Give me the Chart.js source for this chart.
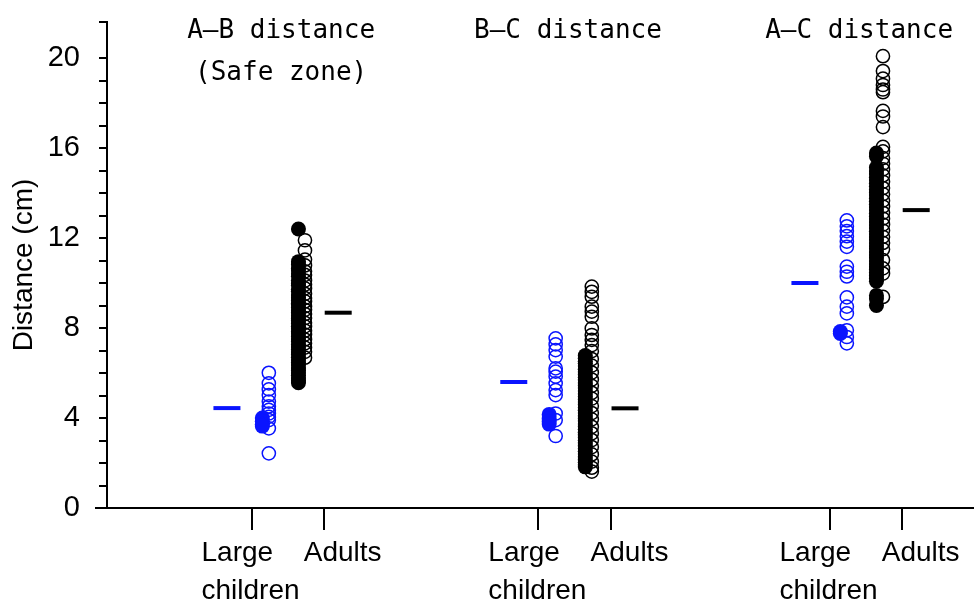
<!DOCTYPE html>
<html>
<head>
<meta charset="utf-8">
<script src="https://cdn.jsdelivr.net/npm/chart.js@4.4.0/dist/chart.umd.min.js"></script>
<style>
  html, body { margin: 0; padding: 0; background: #fff; }
  #wrap { width: 974px; height: 605px; }
</style>
</head>
<body>
<div id="wrap"><canvas id="chart" width="974" height="605"></canvas></div>
<script>
// group headings and axis texts
const groupNames = ['A–B distance', 'B–C distance', 'A–C distance'];
const groupSubtitles = ['(Safe zone)', '', ''];
const yTickLabels = [0, 4, 8, 12, 16, 20];

// means (short dashes)
const childMeans = [4.44, 5.6, 10.0];
const adultMeans = [8.68, 4.43, 13.24];

// A-B distance
const abChildFilled = [4.0, 3.86, 3.72, 3.64];
const abChildOpen = [6.01, 5.54, 5.27, 5.02, 4.73, 4.52, 4.36, 4.2, 4.05, 3.91, 3.54, 2.43];
const abAdultFilled = [12.4, 10.95, 10.82, 10.66, 10.58, 10.41, 10.3, 10.12, 9.98, 9.9, 9.72, 9.63, 9.47, 9.35, 9.22,
  9.1, 9.04, 8.91, 8.77, 8.69, 8.55, 8.42, 8.33, 8.2, 8.08, 7.97, 7.85, 7.78, 7.62, 7.51, 7.4, 7.27, 7.16, 7.05,
  6.93, 6.82, 6.7, 6.58, 6.47, 6.36, 6.22, 6.11, 6.0, 5.9, 5.78, 5.66, 5.57];
const abAdultOpen = [11.9, 11.45, 11.04, 10.78, 10.52, 10.36, 10.11, 9.93, 9.76, 9.52, 9.33, 9.18, 8.96, 8.81, 8.62,
  8.44, 8.23, 8.07, 7.88, 7.71, 7.49, 7.32, 7.13, 6.94, 6.68];

// B-C distance
const bcChildFilled = [4.16, 3.98, 3.84, 3.73];
const bcChildOpen = [7.54, 7.27, 7.02, 6.73, 6.21, 6.06, 5.84, 5.54, 5.24, 5.02, 4.2, 3.91, 3.2];
const bcAdultFilled = [6.78, 6.66, 6.52, 6.43, 6.31, 6.17, 6.05, 5.93, 5.81, 5.7, 5.56, 5.44, 5.33, 5.2, 5.07, 4.96,
  4.82, 4.71, 4.6, 4.47, 4.35, 4.22, 4.1, 3.98, 3.87, 3.73, 3.62, 3.5, 3.37, 3.26, 3.13, 3.01, 2.9, 2.77, 2.65,
  2.52, 2.4, 2.28, 2.15, 2.03, 1.92, 1.83];
const bcAdultOpen = [9.84, 9.61, 9.39, 8.95, 8.73, 8.5, 7.98, 7.69, 7.47, 7.24, 6.97, 6.62, 6.33, 6.02, 5.71, 5.43,
  5.12, 4.86, 4.53, 4.22, 3.94, 3.61, 3.32, 3.02, 2.71, 2.38, 2.06, 1.79, 1.62];

// A-C distance
const acChildFilled = [7.84, 7.76];
const acChildOpen = [12.78, 12.52, 12.31, 12.08, 11.84, 11.61, 10.73, 10.5, 10.29, 9.36, 8.95, 8.65, 7.9, 7.6, 7.32];
const acAdultFilled = [15.78, 15.62, 15.13, 14.98, 14.85, 14.7, 14.58, 14.43, 14.3, 14.16, 14.02, 13.91, 13.77,
  13.63, 13.5, 13.38, 13.24, 13.1, 12.97, 12.85, 12.71, 12.58, 12.44, 12.3, 12.18, 12.05, 11.92, 11.78, 11.64,
  11.52, 11.38, 11.25, 11.12, 10.98, 10.85, 10.72, 10.6, 10.47, 10.33, 10.2, 10.08, 9.45, 9.3, 9.0];
const acAdultOpen = [20.08, 19.42, 19.08, 18.8, 18.6, 18.48, 17.65, 17.4, 16.93, 16.05, 15.85, 15.55, 15.3, 15.05,
  14.78, 14.5, 14.22, 13.95, 13.66, 13.4, 13.12, 12.86, 12.6, 12.33, 12.05, 11.78, 11.5, 11.02, 10.65, 10.42, 9.38];

// where each group sits on the x axis (child tick; adult tick is +1)
const groupX = [2, 5.97, 10];
const OFF = { childMean: -0.34, childFilled: 0.15, childOpen: 0.24, adultFilled: 0.65, adultOpen: 0.74, adultMean: 1.2 };

const BLUE = 'rgb(10,20,255)';

function column(groups, offset) {
  var out = [];
  groups.forEach(function(vals, i) {
    vals.forEach(function(v) { out.push({x: groupX[i] + offset, y: v}); });
  });
  return out;
}
function means(vals, offset) {
  return vals.map(function(v, i) { return {x: groupX[i] + offset, y: v}; });
}

const groupText = {
  id: 'groupText',
  afterDraw(chart) {
    const ctx = chart.ctx, xs = chart.scales.x, ys = chart.scales.y;
    ctx.save();
    ctx.fillStyle = '#000';
    ctx.textBaseline = 'middle';
    ctx.textAlign = 'center';
    ctx.font = '26px "DejaVu Sans Mono"';
    groupNames.forEach(function(name, i) {
      const cx = xs.getPixelForValue(groupX[i] + 0.41);
      ctx.fillText(name, cx, 31);
      if (groupSubtitles[i]) ctx.fillText(groupSubtitles[i], cx, 73);
    });
    ctx.font = '28px "Liberation Sans"';
    ctx.textAlign = 'left';
    groupX.forEach(function(g) {
      const c = xs.getPixelForValue(g), a = xs.getPixelForValue(g + 1);
      ctx.fillText('Large', c - 50, ys.bottom + 45);
      ctx.fillText('children', c - 50, ys.bottom + 83);
      ctx.fillText('Adults', a - 20, ys.bottom + 45);
    });
    // x axis line runs a little past the y axis on the left
    ctx.strokeStyle = '#000';
    ctx.lineWidth = 2;
    ctx.beginPath();
    ctx.moveTo(xs.left - 12, ys.bottom);
    ctx.lineTo(xs.left, ys.bottom);
    ctx.stroke();
    ctx.restore();
  }
};

new Chart(document.getElementById('chart'), {
  type: 'scatter',
  data: {
    datasets: [
      { data: column([abChildFilled, bcChildFilled, acChildFilled], OFF.childFilled),
        pointRadius: 7.5, backgroundColor: BLUE, borderColor: BLUE, borderWidth: 0 },
      { data: column([abAdultFilled, bcAdultFilled, acAdultFilled], OFF.adultFilled),
        pointRadius: 7.5, backgroundColor: '#000', borderColor: '#000', borderWidth: 0 },
      { data: column([abChildOpen, bcChildOpen, acChildOpen], OFF.childOpen),
        pointRadius: 6.6, backgroundColor: 'rgba(0,0,0,0)', borderColor: BLUE, borderWidth: 1.5 },
      { data: column([abAdultOpen, bcAdultOpen, acAdultOpen], OFF.adultOpen),
        pointRadius: 6.6, backgroundColor: 'rgba(0,0,0,0)', borderColor: '#000', borderWidth: 1.5 },
      { data: means(childMeans, OFF.childMean),
        pointStyle: 'line', pointRadius: 13.5, borderColor: BLUE, borderWidth: 4 },
      { data: means(adultMeans, OFF.adultMean),
        pointStyle: 'line', pointRadius: 13.5, borderColor: '#000', borderWidth: 4 }
    ]
  },
  options: {
    responsive: false,
    animation: false,
    events: [],
    layout: { autoPadding: false, padding: { top: 22, right: 0, bottom: 0, left: 0 } },
    plugins: { legend: { display: false }, tooltip: { enabled: false } },
    scales: {
      x: {
        type: 'linear', min: 0, max: 12,
        afterBuildTicks: function(s) {
          s.ticks = [];
          groupX.forEach(function(g) { s.ticks.push({value: g}, {value: g + 1}); });
        },
        ticks: { display: false },
        grid: { drawOnChartArea: false, drawTicks: true, tickLength: 22, color: '#000', lineWidth: 2 },
        border: { color: '#000', width: 2 },
        afterFit: function(s) { s.height = 97; s.paddingLeft = 0; s.paddingRight = 0; }
      },
      y: {
        min: 0, max: 21.6,
        ticks: {
          stepSize: 1, autoSkip: false, padding: 19, color: '#000',
          font: { family: '"Liberation Sans"', size: 29 },
          callback: function(v) { return yTickLabels.includes(v) ? String(v) : ''; }
        },
        grid: { drawOnChartArea: false, drawTicks: true, tickLength: 8, color: '#000', lineWidth: 2 },
        border: { color: '#000', width: 2 },
        title: { display: true, text: 'Distance (cm)', color: '#000',
          font: { family: '"Liberation Sans"', size: 28 }, padding: { top: 7, bottom: 0 } },
        afterFit: function(s) { s.width = 107; s.paddingTop = 0; s.paddingBottom = 0; }
      }
    }
  },
  plugins: [groupText]
});
</script>
</body>
</html>
